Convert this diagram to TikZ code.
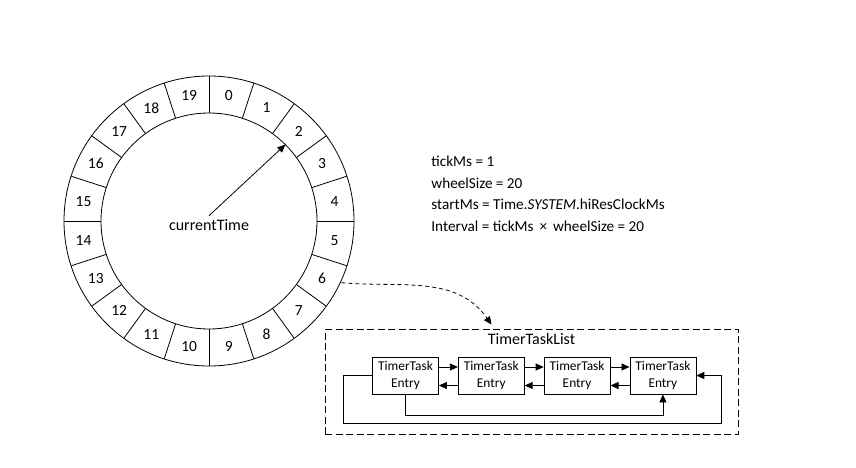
\documentclass[tikz,border=0pt]{standalone}
\usepackage{fontspec}
\setmainfont{Carlito}
\usetikzlibrary{arrows.meta,positioning}

\begin{document}
\begin{tikzpicture}[x=1pt,y=1pt,line width=0.8pt,
  entrybox/.style={draw, minimum width=66pt, minimum height=37pt, inner sep=0pt,
    align=center, font=\fontsize{13.4}{16.5}\selectfont},
  link/.style={-{Triangle[length=8pt,width=7pt]}},
  slotnum/.style={font=\fontsize{15.5}{18}\selectfont},
  caption/.style={font=\fontsize{16}{19}\selectfont}]
\useasboundingbox (0,0) rectangle (856,467);

% the wheel
\coordinate (C) at (209,246);
\draw (C) circle (145) (C) circle (108);
\foreach \k in {0,...,19}
  \draw ([shift={(18*\k:108)}]C) -- ([shift={(18*\k:145)}]C);
\foreach \k in {0,...,19}
  \node [slotnum] (s\k) at ([shift={(81-18*\k:127)}]C) {\k};

\node [caption] (ct) at (209,242) {currentTime};
\coordinate (hand) at ([shift={(45:108)}]C);
\draw [link] (ct.north) -- (hand);

% parameters
\node [anchor=north west, align=left, inner sep=0pt, font=\fontsize{15.2}{21.5}\selectfont]
  (params) at (431,311) {tickMs = 1\\ wheelSize = 20\\
  startMs = Time.\textit{SYSTEM}.hiResClockMs\\
  Interval = tickMs \,×\, wheelSize = 20};

% the task list
\node [draw, dash pattern=on 7pt off 3.5pt, minimum width=413pt, minimum height=105pt]
  (tasklist) at (531.5,85.5) {};
\node [below=1pt of tasklist.north, caption] (title) {TimerTaskList};

\node [entrybox] (e1) at (405.5,91.5) {TimerTask\\Entry};
\node [entrybox, right=19pt of e1] (e2) {TimerTask\\Entry};
\node [entrybox, right=19pt of e2] (e3) {TimerTask\\Entry};
\node [entrybox, right=19pt of e3] (e4) {TimerTask\\Entry};

\foreach \a/\b in {e1/e2,e2/e3,e3/e4} {
  \draw [link] ([yshift=8.5pt]\a.east) -- ([yshift=8.5pt]\b.west);
  \draw [link] ([yshift=-10pt]\b.west) -- ([yshift=-10pt]\a.east);
}
\draw [link] (e1.west) -- ++(-29,0) -- ++(0,-48) -- ++(378,0) -- ++(0,48) -- (e4.east);
\draw [link] (e1.south) -- ++(0,-21) -| (e4.south);

% slot 6 points at the list
\coordinate (slot6) at ([shift={(-25:146)}]C);
\draw [link, dash pattern=on 4pt off 3pt] (slot6) to [out=-5, in=125]
  ([xshift=-40pt,yshift=4pt]tasklist.north);
\end{tikzpicture}
\end{document}
